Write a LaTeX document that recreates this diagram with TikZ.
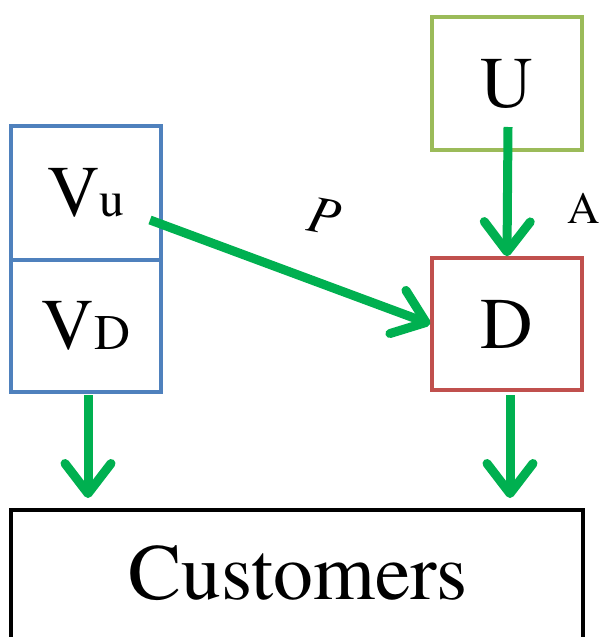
\documentclass[tikz,border=0pt]{standalone}
\usepackage{fontspec}
\setmainfont{TeX Gyre Termes}
\newfontfamily\timesfont{TeX Gyre Termes}
\usetikzlibrary{arrows.meta}
\definecolor{flow}{HTML}{00B050}
\definecolor{ubox}{HTML}{9BBB59}
\definecolor{vbox}{HTML}{4F81BD}
\definecolor{dbox}{HTML}{C0504D}
\begin{document}
\begin{tikzpicture}[x=1bp,y=-1bp,
  every node/.append style={font=\timesfont},
  box/.style={draw, line width=3.5bp, rectangle, inner sep=0pt},
  big/.style={font=\timesfont\fontsize{73}{73}\selectfont},
  flowarrow/.style={draw=flow, line width=9bp,
    -{Straight Barb[length=30bp,width=46bp,round]}},
]
\useasboundingbox (0,0) rectangle (600,637);
\begin{scope}
\clip (0,0) rectangle (600,637);

% supplier and upstream/downstream blocks
\node[box, draw=ubox, minimum width=150bp, minimum height=133bp, big]
  (U) at (507,83.5) {U};
\node[box, draw=vbox, minimum width=150bp, minimum height=134bp, big]
  (Vu) at (86,193) {V\fontsize{50}{50}\selectfont u};
\node[box, draw=vbox, minimum width=150bp, minimum height=132bp, big]
  (VD) at (86,326) {V\fontsize{50}{50}\selectfont D};
\node[box, draw=dbox, minimum width=150bp, minimum height=132bp, big]
  (D) at (507,324) {D};

% customers (runs past the lower edge)
\node[box, draw=black, minimum width=572bp, minimum height=200bp]
  (cust) at (297,610) {};
\node[font=\timesfont\fontsize{80}{80}\selectfont] (custtext) at (298,573) {Customers};

% arrow end points
\coordinate (uout) at (508,127);
\coordinate (pout) at (150,220);
\coordinate (vdout) at (88,395);
\coordinate (vdin) at (88,498);
\coordinate (dout) at (510,395);
\coordinate (din) at (510,498);

\draw[flowarrow] (uout) -- (D.north);
\draw[flowarrow] (pout) -- (D.west);
\draw[flowarrow] (vdout) -- (vdin);
\draw[flowarrow] (dout) -- (din);

% labels
\node[font=\timesfont\fontsize{53}{53}\selectfont\itshape, rotate=-10] (plabel) at (324,216) {P};
\node[font=\timesfont\fontsize{45}{45}\selectfont, anchor=west, inner sep=0pt] (alabel) at (567,208) {A};
\end{scope}
\end{tikzpicture}
\end{document}
